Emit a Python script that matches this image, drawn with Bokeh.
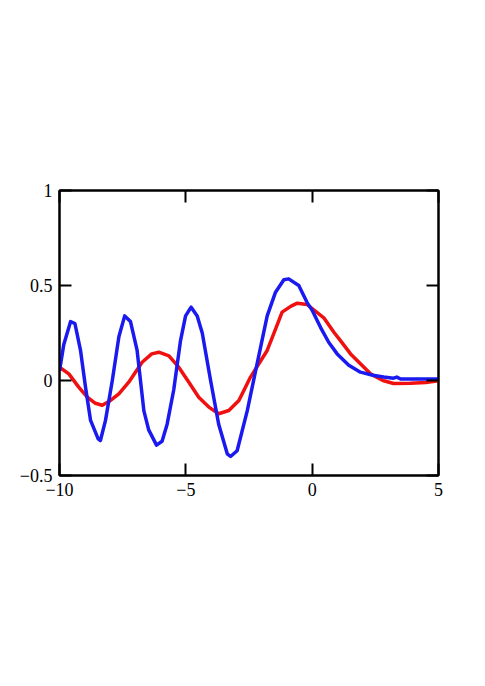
from bokeh.plotting import figure
from bokeh.models import LinearAxis, FixedTicker, Range1d
from bokeh.embed import file_html
from bokeh.resources import INLINE

# Data
blue_x = [-10, -9.83, -9.56, -9.39, -9.17, -8.97, -8.77, -8.47, -8.38, -8.18, -7.91,
          -7.65, -7.42, -7.19, -6.93, -6.66, -6.47, -6.16, -5.94, -5.74, -5.48, -5.21,
          -5.01, -4.79, -4.55, -4.35, -4.02, -3.70, -3.36, -3.23, -2.97, -2.57, -2.18,
          -1.78, -1.45, -1.12, -0.93, -0.53, -0.2, 0.0, 0.33, 0.66, 0.99, 1.45, 1.91, 2.4,
          2.83, 3.22, 3.35, 3.5, 4.0, 4.5, 5.0]
blue_y = [0.05, 0.19, 0.31, 0.30, 0.16, -0.035, -0.21, -0.307, -0.316, -0.21, 0.0,
          0.23, 0.34, 0.31, 0.16, -0.16, -0.26, -0.34, -0.32, -0.23, -0.05, 0.21,
          0.34, 0.386, 0.34, 0.25, 0.0, -0.23, -0.386, -0.40, -0.37, -0.16, 0.088,
          0.34, 0.465, 0.53, 0.535, 0.5, 0.41, 0.37, 0.28, 0.2, 0.14, 0.08, 0.044, 0.028,
          0.018, 0.012, 0.018, 0.008, 0.008, 0.008, 0.008]

red_x = [-10, -9.63, -9.24, -8.9, -8.58, -8.31, -7.98, -7.65, -7.26, -6.73, -6.35,
         -6.07, -5.67, -5.28, -4.88, -4.49, -4.09, -3.70, -3.30, -2.90, -2.44, -2.11,
         -1.78, -1.45, -1.19, -0.85, -0.59, -0.2, 0.46, 0.86, 1.12, 1.52, 1.91, 2.31,
         2.8, 3.22, 3.89, 4.5, 5.0]
red_y = [0.07, 0.035, -0.035, -0.088, -0.12, -0.13, -0.105, -0.07, -0.009, 0.096, 0.14,
         0.149, 0.13, 0.07, -0.009, -0.088, -0.14, -0.175, -0.158, -0.105, 0.018, 0.088,
         0.158, 0.27, 0.36, 0.39, 0.407, 0.40, 0.33, 0.254, 0.21, 0.14, 0.088, 0.035,
         0.0, -0.016, -0.014, -0.01, -0.002]

x_ticks = [-10, -5, 0, 5]
x_labels = ["\u221210", "\u22125", "0", "5"]
y_ticks = [-0.5, 0, 0.5, 1]
y_labels = ["\u22120.5", "0", "0.5", "1"]

FONT = "Liberation Serif"

p = figure(frame_width=379, frame_height=285,
           x_range=Range1d(-10, 5), y_range=Range1d(-0.5, 1),
           output_backend="svg", toolbar_location=None,
           x_axis_location="below", y_axis_location="left",
           min_border_left=59, min_border_top=190, min_border_right=30,
           min_border_bottom=150)
p.background_fill_color = "white"
p.border_fill_color = "white"
p.xgrid.visible = False
p.ygrid.visible = False
p.outline_line_color = "black"
p.outline_line_width = 2

p.add_layout(LinearAxis(), "above")
p.add_layout(LinearAxis(), "right")

for ax in p.xaxis:
    ax.ticker = FixedTicker(ticks=x_ticks)
    ax.major_label_overrides = dict(zip(x_ticks, x_labels))
for ax in p.yaxis:
    ax.ticker = FixedTicker(ticks=y_ticks)
    ax.major_label_overrides = dict(zip(y_ticks, y_labels))

for ax in p.axis:
    ax.axis_line_color = "black"
    ax.axis_line_width = 2
    ax.major_tick_line_color = "black"
    ax.major_tick_line_width = 2
    ax.major_tick_in = 12
    ax.major_tick_out = 0
    ax.minor_tick_line_color = None
    ax.major_label_text_font = FONT
    ax.major_label_text_font_size = "18px"
    ax.major_label_text_color = "black"
    ax.major_label_standoff = 7

p.above[0].major_label_text_color = None
p.right[0].major_label_text_color = None

p.line(red_x, red_y, line_color="#f01010", line_width=3.5, line_join="round")
p.line(blue_x, blue_y, line_color="#1a1af0", line_width=3.5, line_join="round")

open("out.html", "w").write(file_html(p, INLINE))
